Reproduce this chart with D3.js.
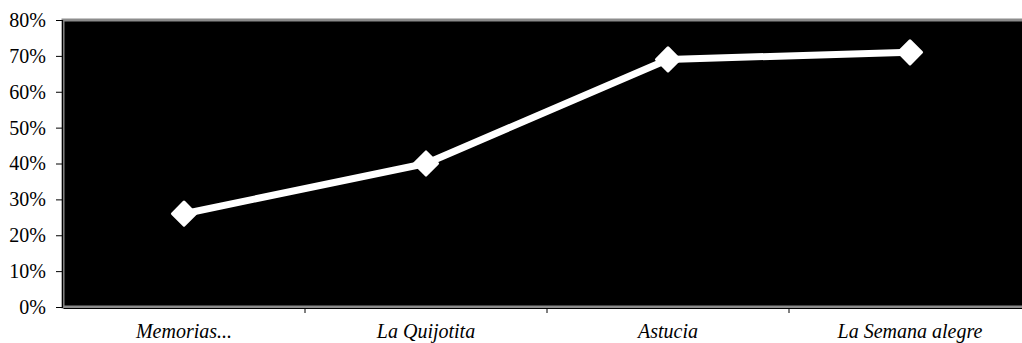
<!DOCTYPE html>
<html><head><meta charset="utf-8">
<script src="https://cdn.jsdelivr.net/npm/d3@7"></script>
<style>body{margin:0;background:#fff}svg{display:block}
svg text{font-family:"Liberation Serif","Times New Roman",serif !important;}</style>
</head><body>
<svg id="c" width="1022" height="343"></svg>
<script>
const categories = ["Memorias...", "La Quijotita", "Astucia", "La Semana alegre"];
const values = [0.26, 0.40, 0.69, 0.71];
const yTicks = [0, 0.1, 0.2, 0.3, 0.4, 0.5, 0.6, 0.7, 0.8];

(function () {
const svg = d3.select("#c");
const mLeft = 63, mRight = 1031, mTop = 20, mBottom = 307;
const x = d3.scaleBand().domain(categories).range([mLeft, mRight]).paddingInner(0).paddingOuter(0);
const y = d3.scaleLinear().domain([0, 0.8]).range([mBottom, mTop]);

svg.append("rect").attr("x", mLeft).attr("y", mTop).attr("width", mRight - mLeft).attr("height", mBottom - mTop)
  .attr("fill", "#000").attr("stroke", "#8c8c8c").attr("stroke-width", 3);

const fmt = d3.format(".0%");
const yAxis = svg.append("g").attr("transform", `translate(${mLeft - 1},0)`)
  .call(d3.axisLeft(y).tickValues(yTicks).tickFormat(fmt).tickSize(6).tickPadding(10));
yAxis.select(".domain").attr("stroke", "#000").attr("stroke-width", 1.2);
yAxis.attr("font-size", 20);
yAxis.selectAll("text").style("font-size", "20px").attr("fill", "#000");

const xAxis = svg.append("g").attr("transform", `translate(0,${mBottom + 1})`)
  .call(d3.axisBottom(x).tickSize(0).tickPadding(16));
xAxis.select(".domain").attr("stroke", "#000").attr("stroke-width", 1.2);
xAxis.attr("font-size", 20);
xAxis.selectAll("text").style("font-size", "20px")
  .attr("font-style", "italic").attr("fill", "#000");
svg.append("g").selectAll("line").data(categories.slice(1)).join("line")
  .attr("x1", d => x(d)).attr("x2", d => x(d)).attr("y1", mBottom + 1).attr("y2", mBottom + 6)
  .attr("stroke", "#000").attr("stroke-width", 1);

const line = d3.line().x((d, i) => x(categories[i]) + x.bandwidth() / 2).y(d => y(d));
svg.append("path").datum(values).attr("d", line).attr("fill", "none").attr("stroke", "#fff")
  .attr("stroke-width", 7).attr("stroke-linejoin", "round");

svg.append("g").selectAll("path").data(values).join("path")
  .attr("d", d3.symbol().type(d3.symbolDiamond2).size(340))
  .attr("transform", (d, i) => `translate(${x(categories[i]) + x.bandwidth() / 2},${y(d)})`)
  .attr("fill", "#fff").attr("stroke", "#fff").attr("stroke-width", 3).attr("stroke-linejoin", "round");
})();
</script>
</body></html>
